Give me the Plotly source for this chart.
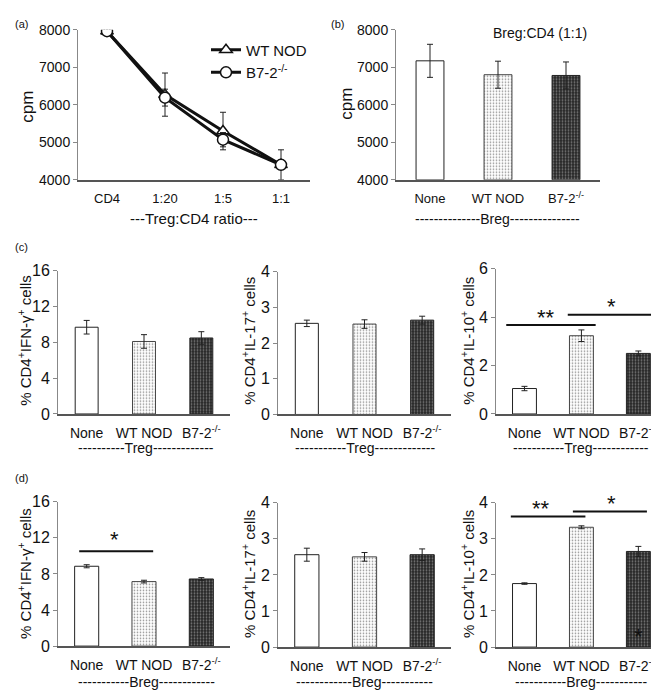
import plotly.graph_objects as go

W, H = 659, 691

# ---------------- data ----------------
ratio_labels = ["CD4", "1:20", "1:5", "1:1"]
wt_cpm = [7960, 6270, 5300, 4400]
wt_cpm_err = [90, 575, 500, 400]
b7_cpm = [7960, 6190, 5070, 4400]
b7_cpm_err = [60, 225, 190, 120]

groups = ["None", "WT NOD", "B7-2<sup>-/-</sup>"]
breg_cpm = [7170, 6800, 6780]
breg_cpm_err = [440, 360, 360]

c_ifng = [9.68, 8.09, 8.48]
c_ifng_err = [0.76, 0.76, 0.70]
c_il17 = [2.55, 2.53, 2.64]
c_il17_err = [0.09, 0.12, 0.11]
c_il10 = [1.05, 3.23, 2.50]
c_il10_err = [0.09, 0.24, 0.10]

d_ifng = [8.85, 7.15, 7.44]
d_ifng_err = [0.17, 0.15, 0.15]
d_il17 = [2.56, 2.50, 2.56]
d_il17_err = [0.18, 0.12, 0.16]
d_il10 = [1.76, 3.32, 2.65]
d_il10_err = [0.02, 0.04, 0.14]

FONT = "Liberation Sans, Arial, sans-serif"


def px(x):
    return x / W


def py(y):
    return 1 - y / H


fig = go.Figure()

# ---------------- axes layout ----------------
axes = {
    "1": (70, 302, 14, 168, [4000, 8000], 1000, 14, ratio_labels, [-0.5, 3.5]),
    "2": (388, 592, 14, 168, [4000, 8000], 1000, 14, groups, [-0.5, 2.5]),
    "3": (50, 222, 261, 408, [0, 16], 4, 16, groups, [-0.5, 2.5]),
    "4": (270, 443, 262, 408.5, [0, 4], 1, 16, groups, [-0.5, 2.5]),
    "5": (488, 656, 259, 408, [0, 6], 2, 16, groups, [-0.5, 2.45]),
    "6": (50, 222, 498, 646, [0, 16], 4, 16, groups, [-0.5, 2.5]),
    "7": (270, 443, 499, 647, [0, 4], 1, 16, groups, [-0.5, 2.5]),
    "8": (488, 656, 499, 647, [0, 4], 1, 16, groups, [-0.5, 2.45]),
}

layout_axes = {}
for k, (x0, x1, yt, yb, yr, dt, ts, cats, xr) in axes.items():
    xname = "xaxis" if k == "1" else f"xaxis{k}"
    yname = "yaxis" if k == "1" else f"yaxis{k}"
    ya = "y" if k == "1" else f"y{k}"
    xa = "x" if k == "1" else f"x{k}"
    small = k in ("1", "2")
    layout_axes[xname] = dict(
        domain=[px(x0), px(x1)], anchor=ya, range=xr,
        tickmode="array", tickvals=list(range(len(cats))), ticktext=cats,
        showline=True, linecolor="#555", linewidth=1.5, ticks="",
        showgrid=False, zeroline=False, fixedrange=True,
        tickfont=dict(family=FONT, size=13 if small else 14, color="#111"),
        ticklabelstandoff=6 if small else 5,
        ticklabeloverflow="allow",
    )
    layout_axes[yname] = dict(
        domain=[py(yb), py(yt)], anchor=xa, range=yr, dtick=dt, tick0=yr[0],
        showline=True, linecolor="#888", linewidth=1, ticks="outside",
        ticklen=4, tickcolor="#888", showgrid=False, zeroline=False,
        fixedrange=True,
        tickfont=dict(family=FONT, size=ts, color="#111"),
    )

# ---------------- panel (a) lines ----------------
fig.add_trace(go.Scatter(
    x=list(range(len(ratio_labels))), y=wt_cpm, xaxis="x", yaxis="y",
    mode="lines+markers", name="WT NOD",
    line=dict(color="#111", width=3),
    marker=dict(symbol="triangle-up", size=11, color="white",
                line=dict(color="#111", width=1.5)),
    error_y=dict(type="data", array=wt_cpm_err, color="#222", thickness=1, width=3),
))
fig.add_trace(go.Scatter(
    x=list(range(len(ratio_labels))), y=b7_cpm, xaxis="x", yaxis="y",
    mode="lines+markers", name="B7-2<sup>-/-</sup>",
    line=dict(color="#111", width=3),
    marker=dict(symbol="circle", size=11, color="white",
                line=dict(color="#111", width=1.5)),
    error_y=dict(type="data", array=b7_cpm_err, color="#222", thickness=1, width=3),
))

# ---------------- bar panels ----------------
styles = [
    dict(color="white", line=dict(color="#222", width=1)),
    dict(color="white", line=dict(color="#444", width=1),
         pattern=dict(shape=".", bgcolor="white", fgcolor="#8c8c8c",
                      size=3, solidity=0.25, fillmode="replace")),
    dict(color="#2b2b2b", line=dict(color="#222", width=1),
         pattern=dict(shape=".", bgcolor="#262626", fgcolor="#7a7a7a",
                      size=3, solidity=0.3, fillmode="replace")),
]

bar_sets = [
    ("2", breg_cpm, breg_cpm_err, 0.41),
    ("3", c_ifng, c_ifng_err, 0.40),
    ("4", c_il17, c_il17_err, 0.40),
    ("5", c_il10, c_il10_err, 0.42),
    ("6", d_ifng, d_ifng_err, 0.42),
    ("7", d_il17, d_il17_err, 0.42),
    ("8", d_il10, d_il10_err, 0.42),
]
for k, vals, errs, bw in bar_sets:
    base = axes[k][4][0]
    for i in range(len(groups)):
        fig.add_trace(go.Bar(
            x=[i], y=[vals[i] - base], base=base,
            xaxis=f"x{k}", yaxis=f"y{k}", width=bw, showlegend=False,
            marker=styles[i],
            error_y=dict(type="data", array=[errs[i]], color="#222",
                         thickness=1, width=3),
        ))

# ---------------- annotations ----------------
ann = []


def text(x, y, s, size=14, angle=0, xref="paper", yref="paper"):
    ann.append(dict(x=x, y=y, xref=xref, yref=yref, text=s, showarrow=False,
                    xanchor="center", yanchor="middle",
                    textangle=angle, font=dict(family=FONT, size=size, color="#111")))


# panel labels
text(px(13), py(8), "(a)", 11)
text(px(329), py(8), "(b)", 11)
text(px(13), py(237), "(c)", 11)
text(px(13), py(474), "(d)", 11)

# y titles
text(px(20), py(93), "cpm", 17, angle=-90)
text(px(339), py(90), "cpm", 17, angle=-90)
for xx, yy, s in [
    (17, 333, "% CD4<sup>+</sup>IFN-γ<sup>+</sup> cells"),
    (241, 333, "% CD4<sup>+</sup>IL-17<sup>+</sup> cells"),
    (460, 333, "% CD4<sup>+</sup>IL-10<sup>+</sup> cells"),
    (17, 572, "% CD4<sup>+</sup>IFN-γ<sup>+</sup> cells"),
    (241, 572, "% CD4<sup>+</sup>IL-17<sup>+</sup> cells"),
    (460, 572, "% CD4<sup>+</sup>IL-10<sup>+</sup> cells"),
]:
    text(px(xx), py(yy), s, 15, angle=-90)

# group labels under x axes
text(px(186), py(208), "---Treg:CD4 ratio---", 15)
text(px(490), py(208), "--------------Breg---------------", 14)
text(px(138), py(443), "----------Treg-------------", 14)
text(px(357), py(443), "-----------Treg-------------", 14)
text(px(573), py(443), "-----------Treg------------", 14)
text(px(138), py(683), "-----------Breg------------", 14)
text(px(357), py(683), "------------Breg-----------", 14)
text(px(573), py(683), "-----------Breg-----------", 14)

# panel (b) title
text(px(532), py(17), "Breg:CD4 (1:1)", 14)

# significance stars
text(0.38, 3.97, "**", 22, xref="x5", yref="y5")
text(1.52, 4.45, "*", 22, xref="x5", yref="y5")
text(0.48, 11.85, "*", 22, xref="x6", yref="y6")
text(0.29, 3.85, "**", 22, xref="x8", yref="y8")
text(1.52, 3.98, "*", 22, xref="x8", yref="y8")
text(2.0, 0.3, "*", 22, xref="x8", yref="y8")

shapes = []
for xr, yr, x0, x1, yv in [
    ("x5", "y5", -0.32, 1.25, 3.67),
    ("x5", "y5", 0.76, 2.34, 4.10),
    ("x6", "y6", -0.13, 1.16, 10.5),
    ("x8", "y8", -0.24, 1.07, 3.62),
    ("x8", "y8", 0.85, 2.15, 3.76),
]:
    shapes.append(dict(type="line", xref=xr, yref=yr, x0=x0, x1=x1, y0=yv, y1=yv,
                       line=dict(color="#111", width=2)))

fig.update_layout(
    width=W, height=H, margin=dict(l=0, r=0, t=0, b=0),
    paper_bgcolor="white", plot_bgcolor="white",
    font=dict(family=FONT, color="#111"),
    annotations=ann, shapes=shapes,
    legend=dict(x=px(198), y=py(18), xanchor="left", yanchor="top",
                bgcolor="rgba(0,0,0,0)", font=dict(family=FONT, size=15),
                itemwidth=30, tracegroupgap=2),
    **layout_axes,
)

fig.write_html("out.html")
